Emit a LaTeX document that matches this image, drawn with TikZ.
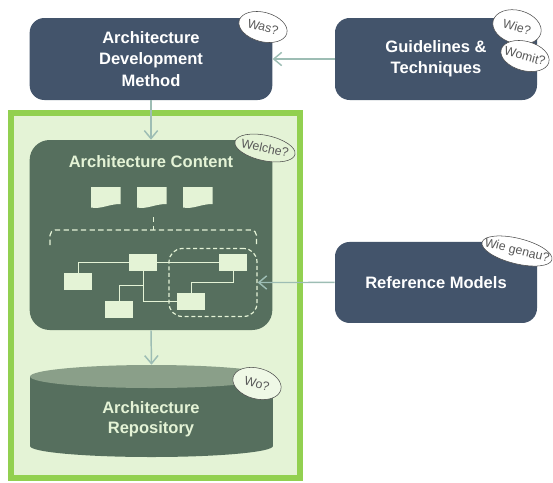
\documentclass[tikz,border=0pt]{standalone}
\usepackage{fontspec}
\setmainfont{Liberation Sans}
\usetikzlibrary{arrows.meta}
\usetikzlibrary{shapes.geometric}
\definecolor{navy}{HTML}{43546B}
\definecolor{moss}{HTML}{566F5E}
\definecolor{mosslight}{HTML}{8A9F89}
\definecolor{paper}{HTML}{E4F3D6}
\definecolor{framegreen}{HTML}{92D050}
\definecolor{linkgrey}{HTML}{9DBDB4}
\newcommand{\qtext}[1]{\makebox[0pt]{#1}}
\tikzstyle{outerbox} = [rectangle, rounded corners=11pt, fill=navy, text=white, align=center, font=\bfseries\fontsize{12.4}{16}\selectfont]
\tikzstyle{innerbox} = [rectangle, rounded corners=15pt, fill=moss, minimum width=182pt, minimum height=142.5pt]
\tikzstyle{mosstext} = [text=paper, align=center, font=\bfseries\fontsize{12.4}{15}\selectfont]
\tikzstyle{smallbox} = [rectangle, fill=paper, minimum width=21pt, minimum height=12.75pt, inner sep=0pt]
\tikzstyle{bubble} = [ellipse, draw=black!70, fill=white, text=black!65, inner sep=0pt, font=\fontsize{9.3}{11}\selectfont]
\tikzstyle{arrow} = [line width=1.1pt,color=linkgrey,->,>={Straight Barb[length=6pt,width=10pt]}]
\tikzstyle{wire} = [line width=0.7pt,color=paper]
\tikzstyle{dashwire} = [line width=0.9pt,color=paper,dash pattern=on 4pt off 2.5pt]
\begin{document}
\begin{tikzpicture}[x=0.75pt,y=-0.75pt,node distance=60pt]
\useasboundingbox (0,0) rectangle (553,482);
\node (frame) [rectangle, draw=framegreen, line width=4.2pt, fill=paper, minimum width=216.6pt, minimum height=274pt] at (155.5,295.5) {};
\node (adm) [outerbox, minimum width=182pt, minimum height=61.5pt] at (151,59) {Architecture\\Development\\Method};
\node (guide) [outerbox, right of=adm, xshift=153.75pt, minimum width=151.5pt, minimum height=61.5pt] {Guidelines \&\\Techniques};
\node (content) [innerbox, below of=adm, yshift=-72pt] {};
\node (contenttitle) [mosstext, below of=adm, yshift=-17pt] {Architecture Content};
\node (refmodels) [outerbox, right of=content, xshift=153.75pt, yshift=-35.6pt, minimum width=151.5pt, minimum height=60.75pt] {Reference Models};
% repository drum
\fill [moss] (30,377) -- (30,446) arc[start angle=180,end angle=360,x radius=91.1pt,y radius=8.25pt] -- (273,377) -- cycle;
\node (repotop) [ellipse, fill=mosslight, minimum width=182.2pt, minimum height=17.25pt, inner sep=0pt] at (151.5,376.5) {};
\node (repo) [mosstext] at (151,419) {Architecture\\Repository};
% documents
\foreach \docx in {91,137,183}
  \fill [paper] (\docx,187) -- ++(29.5,0) -- ++(0,17) .. controls ++(-12,0) and ++(10,2) .. ++(-29.5,3.5) -- cycle;
\coordinate (docs) at (153.5,217);
\coordinate (bracket) at (153.5,230);
\draw [dashwire] (docs) -- (bracket);
\draw [dashwire, rounded corners=4pt] (50,245) -- (50,230) -- (bracket) -- (256.5,230) -- (256.5,245);
% small boxes
\node (boxb) [smallbox] at (143,262.5) {};
\node (boxa) [smallbox, left of=boxb, xshift=11.25pt, yshift=-14.25pt] {};
\node (boxc) [smallbox, right of=boxb, xshift=7.5pt] {};
\node (boxd) [smallbox, below of=boxb, xshift=-18pt, yshift=24.75pt] {};
\node (boxe) [smallbox, below of=boxb, xshift=36pt, yshift=30.75pt] {};
\coordinate (kneec) at (191,282);
\coordinate (kneeb) at (143,285);
\draw [wire] (boxb.west) -| (boxa.north);
\draw [wire] (boxb.east) -- (boxc.west);
\draw [wire] (boxc.south) |- (kneec) -- (boxe.north);
\draw [wire] (boxb.south) |- (boxe.west);
\draw [wire] (kneeb) -| (boxd.north);
\node (subset) [rectangle, rounded corners=10pt, draw=paper, line width=0.9pt, dash pattern=on 3pt off 2pt, minimum width=66pt, minimum height=51pt] at (213,282.5) {};
% links
\draw [arrow] (guide.west) -- (adm.east);
\draw [arrow] (adm.south) -- (content.north);
\draw [arrow] (content.south) -- (repotop.north);
\draw [arrow] (refmodels.west) -- (subset.east);
% question bubbles
\node (was) [bubble, rotate=-15, minimum width=37pt, minimum height=22pt] at (263,27) {\qtext{Was?}};
\node (wie) [bubble, rotate=-15, minimum width=37pt, minimum height=25pt] at (517,27) {\qtext{Wie?}};
\node (womit) [bubble, rotate=-15, minimum width=37pt, minimum height=22pt] at (525,56) {\qtext{Womit?}};
\node (welche) [bubble, rotate=-12, fill=paper, minimum width=46pt, minimum height=19pt] at (265,148) {\qtext{Welche?}};
\node (wo) [bubble, rotate=-15, fill=paper!60!white, minimum width=37pt, minimum height=23pt] at (257,383.5) {\qtext{Wo?}};
\node (wiegenau) [bubble, rotate=-14, minimum width=54pt, minimum height=19pt] at (517,251) {\qtext{Wie genau?}};
\end{tikzpicture}
\end{document}
